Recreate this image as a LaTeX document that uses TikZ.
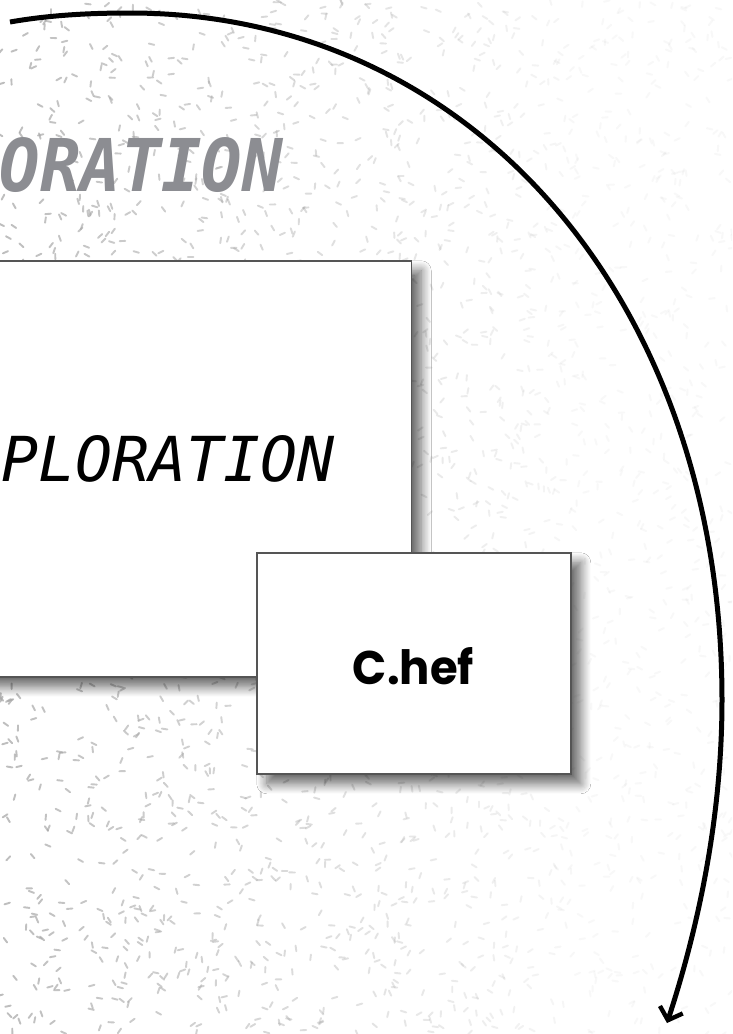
\documentclass[tikz,border=0pt]{standalone}
\usepackage{fontspec}
\usepackage{graphicx}
\newfontfamily\handfont{DejaVu Sans Mono}
\newfontfamily\popfont{Poppins}
\usetikzlibrary{shadows.blur,arrows.meta}
\definecolor{dashcol}{HTML}{A8A8A8}
\definecolor{titlegray}{HTML}{8C8D92}
\definecolor{boxborder}{HTML}{555555}
\tikzset{
  card/.style={draw=boxborder, line width=1.5pt, fill=white,
    blur shadow={shadow xshift=10pt, shadow yshift=-10pt, shadow blur radius=10pt,
      shadow blur steps=12, shadow opacity=60}},
  arcline/.style={line width=5pt, black,
    -{Straight Barb[length=11pt,width=24pt,line width=4.4pt]}},
  speck/.style={dashcol, line width=1.9pt, line cap=round}
}
\begin{document}
\begin{tikzpicture}[x=1pt,y=-1pt]
\useasboundingbox (0,0) rectangle (732,1034);
\clip (0,0) rectangle (732,1034);
\fill[white] (0,0) rectangle (732,1034);
% speckled background
\pgfmathsetseed{7}
\foreach \i in {1,...,2800}{
  \pgfmathsetmacro\px{rnd*732}
  \pgfmathsetmacro\py{rnd*1034}
  \pgfmathsetmacro\pa{rnd*180}
  \pgfmathsetmacro\po{max(0.08, 0.75 - 0.85*\px/732)}
  \draw[speck, opacity=\po] (\px,\py) ++(\pa:2.8pt) -- ++(\pa+180:5.6pt);
}
% title fragment
\node[inner sep=0, anchor=south east, text=titlegray] (title) at (283,193)
  {\resizebox{283pt}{54pt}{\handfont\bfseries\itshape ORATION}};
% big card
\node[card, minimum width=432pt, minimum height=416pt, inner sep=0, anchor=north east] (big) at (412,260) {};
\node[inner sep=0, anchor=south east] (bigtext) at (335,483)
  {\resizebox{333pt}{46pt}{\handfont\itshape PLORATION}};
% small card
\node[card, minimum width=314pt, minimum height=221pt, inner sep=0, anchor=north west] (small) at (256,552) {};
\node[inner sep=0] (smalltext) at (413.5,666.5)
  {\resizebox{121pt}{37pt}{\popfont\bfseries C.hef}};
% arc connector
\coordinate (arcStart) at (10,22);
\coordinate (arcTop) at (130,13);
\coordinate (arcRight) at (722,700);
\coordinate (arcEnd) at (667,1023);
\draw[arcline] (arcStart) .. controls (50,15) and (90,13) .. (arcTop)
  .. controls (473,13) and (722,302) .. (arcRight)
  .. controls (722,810) and (701,919) .. (arcEnd);
\end{tikzpicture}
\end{document}
